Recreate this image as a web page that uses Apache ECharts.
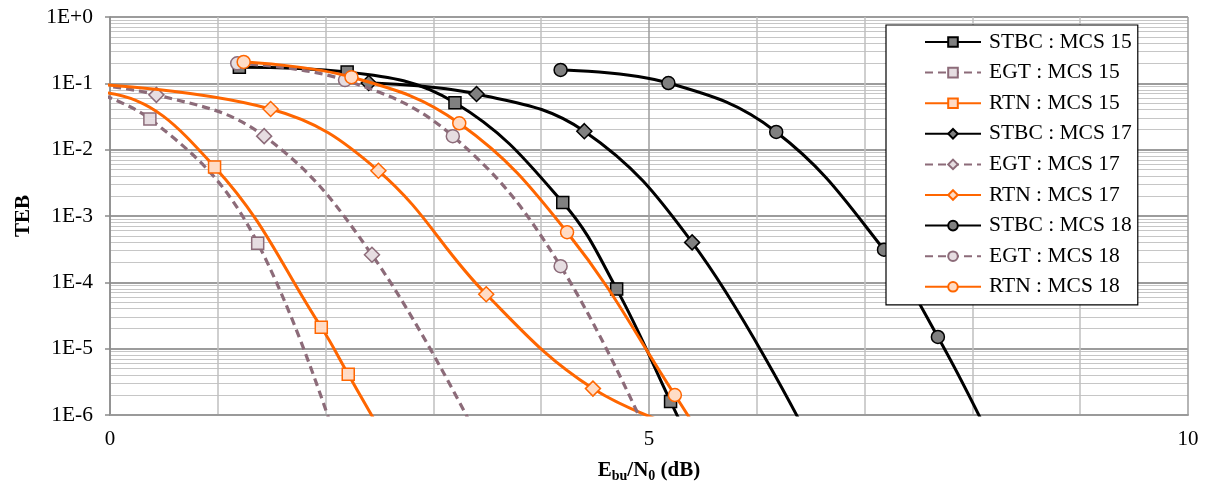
<!DOCTYPE html>
<html>
<head>
<meta charset="utf-8">
<script src="https://cdn.jsdelivr.net/npm/echarts@6/dist/echarts.min.js"></script>
<style>
html,body{margin:0;padding:0;background:#fff;}
#chart{width:1210px;height:488px;}
</style>
</head>
<body>
<div id="chart"></div>
<script>
// ---- data ----
const seriesNames = ['STBC : MCS 15','EGT : MCS 15','RTN : MCS 15','STBC : MCS 17','EGT : MCS 17','RTN : MCS 17','STBC : MCS 18','EGT : MCS 18','RTN : MCS 18'];
const stbc15X = [1.2, 2.2, 3.2, 4.2, 4.7, 5.2, 5.7];
const stbc15Y = [0.175, 0.148, 0.051, 0.0016, 7.9e-5, 1.6e-6, 3e-8];
const egt15X = [-0.63, 0.37, 1.37, 2.37];
const egt15Y = [0.12, 0.029, 3.9e-4, 1.5e-8];
const rtn15X = [-1.03, -0.03, 0.97, 1.96, 2.21, 2.46];
const rtn15Y = [0.085, 0.072, 0.0055, 2.1e-5, 4.1e-6, 8e-7];
const stbc17X = [2.4, 3.4, 4.4, 5.4, 6.4];
const stbc17Y = [0.101, 0.069, 0.019, 4.0e-4, 8e-7];
const egt17X = [-0.57, 0.43, 1.43, 2.43, 3.43];
const egt17Y = [0.11, 0.067, 0.016, 2.6e-4, 4e-7];
const rtn17X = [-0.51, 1.49, 2.49, 3.49, 4.48, 5.49];
const rtn17Y = [0.105, 0.041, 0.0048, 6.6e-5, 2.5e-6, 5e-7];
const stbc18X = [4.18, 5.18, 6.18, 7.18, 7.68, 8.18];
const stbc18Y = [0.159, 0.101, 0.0185, 3.1e-4, 1.5e-5, 4e-7];
const egt18X = [1.18, 2.18, 3.18, 4.18, 5.18];
const egt18Y = [0.20, 0.112, 0.016, 1.75e-4, 1e-7];
const rtn18X = [1.24, 2.24, 3.24, 4.24, 5.24, 5.74];
const rtn18Y = [0.21, 0.124, 0.025, 5.7e-4, 2.0e-6, 1e-7];
const yTickLabels = {'1':'1E+0','0.1':'1E-1','0.01':'1E-2','0.001':'1E-3','0.0001':'1E-4','0.00001':'1E-5','0.000001':'1E-6'};
const xTickLabels = ['0','5','10'];

// ---- styles ----
const FONT = '"Liberation Serif", "Times New Roman", serif';
const kinds = {
  STBC: {line:'#000000', width:3, type:'solid', fill:'#808080', border:'#000000'},
  EGT:  {line:'#8C6B79', width:3.2, type:[8,5], fill:'#E6DDE1', border:'#8C6B79'},
  RTN:  {line:'#FF6600', width:3, type:'solid', fill:'#FFDCC6', border:'#FF6600'}
};
const symbols = {'15':['rect',12], '17':['diamond',15], '18':['circle',13]};

const allX = [stbc15X, egt15X, rtn15X, stbc17X, egt17X, rtn17X, stbc18X, egt18X, rtn18X];
const allY = [stbc15Y, egt15Y, rtn15Y, stbc17Y, egt17Y, rtn17Y, stbc18Y, egt18Y, rtn18Y];

function logLabel(v){
  const e = Math.round(Math.log10(v));
  return '1E' + (e >= 0 ? '+' + e : String(e));
}

const series = seriesNames.map((name, i) => {
  const kind = name.split(' ')[0];
  const mcs = name.slice(-2);
  const k = kinds[kind];
  const s = symbols[mcs];
  return {
    name: name,
    type: 'line',
    smooth: 0.4,
    clip: true,
    data: allX[i].map((x, j) => [x, allY[i][j]]),
    symbol: s[0],
    symbolSize: s[1],
    showAllSymbol: true,
    lineStyle: {color: k.line, width: k.width, type: k.type},
    itemStyle: {color: k.fill, borderColor: k.border, borderWidth: 1.5},
    emphasis: {disabled: true},
    z: 2 + i
  };
});

const chart = echarts.init(document.getElementById('chart'), null, {renderer: 'canvas'});
chart.setOption({
  animation: false,
  backgroundColor: '#ffffff',
  textStyle: {fontFamily: FONT},
  grid: {left: 110, right: 22, top: 17, bottom: 73, containLabel: false},
  legend: {
    data: seriesNames,
    orient: 'vertical',
    left: 886,
    top: 25,
    padding: [6, 6, 7, 38],
    itemGap: 8.6,
    itemWidth: 56,
    itemHeight: 12,
    backgroundColor: '#ffffff',
    borderColor: '#000000',
    borderWidth: 1.2,
    borderRadius: 0,
    textStyle: {fontFamily: FONT, fontSize: 21.5, color: '#000', lineHeight: 21, padding: [0,0,0,3]},
    z: 20
  },
  xAxis: {
    type: 'value',
    min: 0, max: 10, interval: 5,
    name: '{a|E}{s|bu}{a|/N}{s|0}{b| (dB)}',
    nameLocation: 'middle',
    nameGap: 44,
    nameTextStyle: {
      rich: {
        a: {fontFamily: FONT, fontSize: 21, fontWeight: 'bold', color: '#000', lineHeight: 24, verticalAlign: 'middle'},
        b: {fontFamily: FONT, fontSize: 21, fontWeight: 'bold', color: '#000', lineHeight: 24, verticalAlign: 'middle'},
        s: {fontFamily: FONT, fontSize: 14, fontWeight: 'bold', color: '#000', lineHeight: 12, verticalAlign: 'bottom'}
      }
    },
    axisLine: {show: true, onZero: false, lineStyle: {color: '#9a9a9a', width: 2}},
    axisTick: {show: false},
    axisLabel: {fontFamily: FONT, fontSize: 21, color: '#000', margin: 14,
      formatter: (v) => xTickLabels[Math.round(v / 5)] || ''},
    splitLine: {show: true, lineStyle: {color: '#9c9c9c', width: 1.5}},
    minorTick: {show: false, splitNumber: 5},
    minorSplitLine: {show: true, lineStyle: {color: '#c0c0c0', width: 1.5}}
  },
  yAxis: {
    type: 'log',
    logBase: 10,
    min: 1e-6, max: 1,
    name: 'TEB',
    nameLocation: 'middle',
    nameGap: 76,
    nameRotate: 90,
    nameTextStyle: {fontFamily: FONT, fontSize: 21, fontWeight: 'bold', color: '#000'},
    axisLine: {show: true, lineStyle: {color: '#8a8a8a', width: 1.5}},
    axisTick: {show: true, length: 5, lineStyle: {color: '#8a8a8a', width: 1.5}},
    axisLabel: {fontFamily: FONT, fontSize: 21.5, color: '#000', margin: 17,
      formatter: (v) => yTickLabels[String(v)] || logLabel(v)},
    splitLine: {show: true, lineStyle: {color: '#9c9c9c', width: 2}},
    minorTick: {show: false, splitNumber: 9},
    minorSplitLine: {show: true, lineStyle: {color: '#c6c6c6', width: 1.2}}
  },
  series: series
});
</script>
</body>
</html>
